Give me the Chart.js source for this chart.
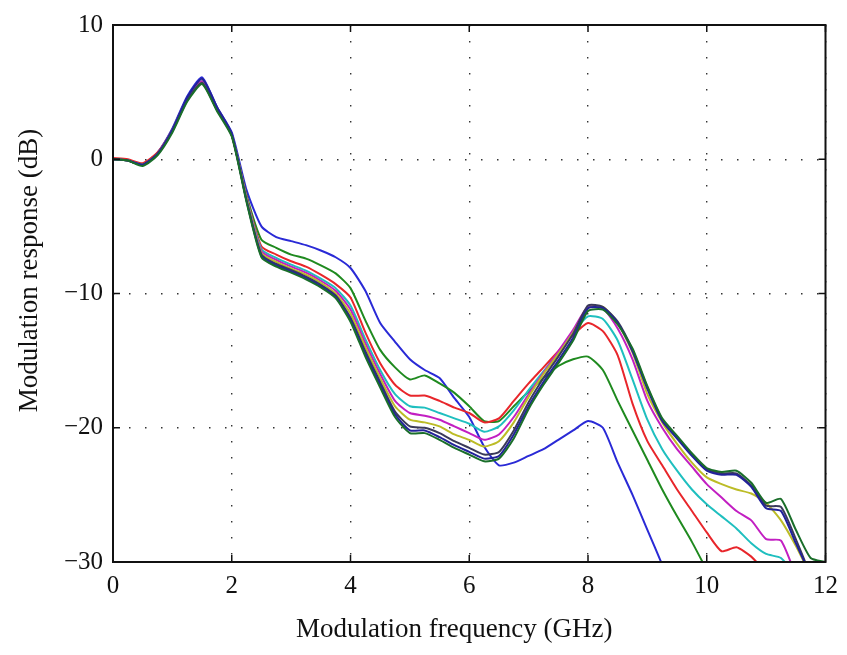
<!DOCTYPE html>
<html>
<head>
<meta charset="utf-8">
<script src="https://cdn.jsdelivr.net/npm/chart.js@4.4.0/dist/chart.umd.min.js"></script>
<style>
  html, body { margin: 0; padding: 0; background: #fff; }
  #wrap { width: 847px; height: 655px; }
</style>
</head>
<body>
<div id="wrap"><canvas id="respCanvas"></canvas></div>
<script>
// Modulation frequency (GHz), 0.25 GHz steps
const freq = [0, 0.25, 0.5, 0.75, 1, 1.25, 1.5, 1.75, 2, 2.25, 2.5, 2.75, 3, 3.25, 3.5, 3.75,
  4, 4.25, 4.5, 4.75, 5, 5.25, 5.5, 5.75, 6, 6.25, 6.5, 6.75, 7, 7.25, 7.5, 7.75,
  8, 8.25, 8.5, 8.75, 9, 9.25, 9.5, 9.75, 10, 10.25, 10.5, 10.75, 11, 11.25, 11.5, 11.75, 12];

const xTicks = [0, 2, 4, 6, 8, 10, 12];
const yTicks = [-30, -20, -10, 0, 10];

// modulation response (dB), one curve per bias
const blue1 = [0, -0.1, -0.4, 0.5, 2.3, 4.7, 6.1, 3.9, 2.0,
  -2.3, -5.0, -5.8, -6.1, -6.4, -6.8, -7.3, -8.1, -9.8, -12.2, -13.6, -14.9, -15.7, -16.3, -17.8,
  -19.2, -21.4, -22.8, -22.6, -22.1, -21.6, -20.9, -20.2, -19.5, -20.0, -22.6, -25.0, -27.6, -30.2,
  null, null, null, null, null, null, null, null, null, null, null];
const green1 = [0, -0.1, -0.4, 0.4, 2.2, 4.5, 5.7, 3.7, 1.8,
  -2.7, -6.0, -6.6, -7.1, -7.4, -7.9, -8.5, -9.6, -12.0, -14.2, -15.5, -16.4, -16.1, -16.7, -17.4,
  -18.4, -19.5, -19.5, -18.4, -17.3, -16.3, -15.4, -14.9, -14.7, -15.7, -18.0, -20.2, -22.4, -24.6,
  -26.6, -28.5, -30.6, null, null, null, null, null, null, null, null];
const red = [0.1, 0, -0.3, 0.5, 2.2, 4.5, 5.8, 3.8, 1.8,
  -2.8, -6.5, -7.1, -7.6, -8.0, -8.6, -9.3, -10.3, -12.9, -15.2, -16.8, -17.6, -17.6, -18.0, -18.5,
  -18.9, -19.6, -19.3, -18.0, -16.7, -15.5, -14.3, -13.1, -12.2, -12.8, -14.6, -18.2, -21.0, -22.8,
  -24.6, -26.2, -27.8, -29.2, -28.9, -29.6, -30.8, null, null, null, null];
const cyan = [0, -0.1, -0.4, 0.4, 2.2, 4.5, 5.8, 3.8, 1.8,
  -2.9, -6.7, -7.35, -7.85, -8.3, -8.9, -9.6, -10.9, -13.4, -15.7, -17.5, -18.4, -18.5, -18.9, -19.3,
  -19.7, -20.3, -19.9, -18.7, -17.2, -15.8, -14.4, -12.9, -11.7, -11.9, -13.5, -16.4, -19.4, -21.6,
  -23.2, -24.6, -25.7, -26.6, -27.5, -28.6, -29.4, -29.7, -31.0, null, null];
const magenta = [0, -0.1, -0.4, 0.4, 2.2, 4.5, 5.8, 3.8, 1.8,
  -3.0, -6.85, -7.5, -8.0, -8.45, -9.05, -9.8, -11.2, -13.7, -16.0, -18.0, -18.9, -19.1, -19.4, -19.9,
  -20.4, -20.9, -20.5, -19.2, -17.5, -15.9, -14.3, -12.7, -11.0, -11.1, -12.6, -14.9, -18.0, -20.0,
  -21.6, -22.9, -24.2, -25.2, -26.2, -26.9, -28.3, -28.4, -31.0, null, null];
const yellow = [0, -0.1, -0.4, 0.4, 2.1, 4.4, 5.7, 3.7, 1.8,
  -3.0, -7.0, -7.65, -8.15, -8.6, -9.2, -10.0, -11.5, -14.0, -16.3, -18.4, -19.4, -19.6, -19.9, -20.5,
  -20.9, -21.4, -21.0, -19.6, -17.7, -16.0, -14.5, -12.9, -11.1, -11.0, -12.2, -14.4, -17.5, -19.6,
  -21.2, -22.6, -23.7, -24.2, -24.6, -24.9, -25.6, -26.9, -28.8, -31.0, null];
const dark = [0, -0.1, -0.4, 0.4, 2.1, 4.4, 5.7, 3.7, 1.8,
  -3.1, -7.1, -7.8, -8.25, -8.75, -9.35, -10.15, -11.8, -14.3, -16.6, -18.8, -19.9, -20.0, -20.4, -21.0,
  -21.5, -22.0, -21.8, -20.2, -18.1, -16.3, -14.7, -13.0, -10.9, -11.0, -12.1, -14.2, -17.0, -19.4,
  -20.7, -22.0, -23.1, -23.4, -23.4, -24.3, -25.8, -25.9, -28.3, -31.0, null];
const blue2 = [0, -0.1, -0.4, 0.4, 2.2, 4.6, 6.0, 3.9, 1.9,
  -3.1, -7.2, -7.9, -8.35, -8.85, -9.45, -10.25, -11.95, -14.5, -16.8, -19.0, -20.2, -20.2, -20.7, -21.3,
  -21.8, -22.3, -22.1, -20.5, -18.4, -16.6, -15.0, -13.3, -11.1, -11.1, -12.2, -14.3, -17.1, -19.5,
  -20.8, -22.1, -23.2, -23.5, -23.5, -24.4, -26.0, -26.2, -28.6, -31.0, null];
const green2 = [0, -0.1, -0.5, 0.3, 2.0, 4.3, 5.6, 3.6, 1.7,
  -3.2, -7.3, -8.0, -8.45, -8.95, -9.55, -10.35, -12.1, -14.7, -17.0, -19.2, -20.4, -20.4, -20.9, -21.5,
  -22.0, -22.5, -22.3, -20.8, -18.6, -16.8, -15.2, -13.5, -11.3, -11.2, -12.3, -14.1, -16.9, -19.3,
  -20.6, -21.9, -23.0, -23.3, -23.2, -24.1, -25.6, -25.3, -27.6, -29.7, -30.0];

const curves = [
  { values: blue1, color: "#2a2ad6" },
  { values: green1, color: "#1f8a1f" },
  { values: red, color: "#e8262b" },
  { values: cyan, color: "#1fbfbf" },
  { values: magenta, color: "#c21fc2" },
  { values: yellow, color: "#bcbc26" },
  { values: dark, color: "#3a3a5a" },
  { values: blue2, color: "#22229a" },
  { values: green2, color: "#1a6e2a" },
];

const serif = "'Liberation Serif', 'DejaVu Serif', serif";

// box, inward tick marks and axis titles (matlab look)
const framePlugin = {
  id: "frame",
  afterDraw(chart) {
    const { ctx, chartArea: a, scales: { x, y } } = chart;
    ctx.save();
    ctx.strokeStyle = "#111";
    ctx.lineWidth = 1.5;
    ctx.beginPath();
    xTicks.forEach(v => {
      const px = x.getPixelForValue(v);
      ctx.moveTo(px, a.bottom); ctx.lineTo(px, a.bottom - 7);
      ctx.moveTo(px, a.top); ctx.lineTo(px, a.top + 7);
    });
    yTicks.forEach(v => {
      const py = y.getPixelForValue(v);
      ctx.moveTo(a.left, py); ctx.lineTo(a.left + 7, py);
      ctx.moveTo(a.right, py); ctx.lineTo(a.right - 7, py);
    });
    ctx.stroke();
    ctx.lineWidth = 2;
    ctx.strokeRect(a.left, a.top, a.right - a.left, a.bottom - a.top);

    ctx.fillStyle = "#111";
    ctx.font = "27px " + serif;
    ctx.textAlign = "center";
    ctx.textBaseline = "alphabetic";
    ctx.fillText("Modulation frequency (GHz)", (a.left + a.right) / 2 - 15, a.bottom + 75);
    ctx.translate(a.left - 76, (a.top + a.bottom) / 2 - 23);
    ctx.rotate(-Math.PI / 2);
    ctx.fillText("Modulation response (dB)", 0, 0);
    ctx.restore();
  }
};

const respChart = new Chart(document.getElementById("respCanvas"), {
  type: "line",
  data: {
    datasets: curves.map((c, i) => ({
      data: freq.map((f, j) => ({ x: f, y: c.values[j] })),
      borderColor: c.color,
      borderWidth: 2,
      pointRadius: 0,
      tension: 0.2,
      fill: false,
      spanGaps: false,
      order: curves.length - i,
    })),
  },
  options: {
    responsive: true,
    maintainAspectRatio: false,
    animation: false,
    layout: { padding: { top: 12, right: 19, left: 0, bottom: 0 } },
    plugins: { legend: { display: false }, tooltip: { enabled: false } },
    scales: {
      x: {
        type: "linear",
        min: 0,
        max: 12,
        afterBuildTicks: s => { s.ticks = xTicks.map(v => ({ value: v })); },
        afterFit: s => { s.height = 93; },
        grid: { color: "#333", lineWidth: 1.4, drawTicks: false },
        border: { display: false, dash: [1.5, 14.5] },
        ticks: { padding: 9, color: "#111", font: { family: serif, size: 25 }, maxRotation: 0 },
      },
      y: {
        type: "linear",
        min: -30,
        max: 10,
        afterBuildTicks: s => { s.ticks = yTicks.map(v => ({ value: v })); },
        afterFit: s => { s.width = 113; },
        grid: { color: "#333", lineWidth: 1.4, drawTicks: false },
        border: { display: false, dash: [1.5, 14.5] },
        ticks: {
          padding: 10,
          color: "#111",
          font: { family: serif, size: 25 },
          callback: v => (v < 0 ? "\u2212" + Math.abs(v) : String(v)),
        },
      },
    },
  },
  plugins: [framePlugin],
});
</script>
</body>
</html>
